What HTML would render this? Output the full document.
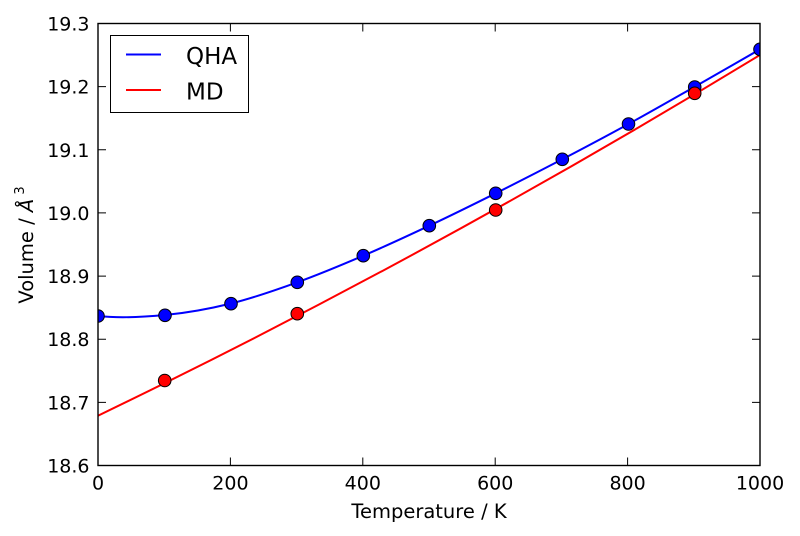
<!DOCTYPE html>
<html><head><meta charset="utf-8"><style>
html,body{margin:0;padding:0;background:#fff;}
svg{display:block;}
text{font-family:"DejaVu Sans","Liberation Sans",sans-serif;fill:#000;}
</style></head><body>
<svg width="800" height="536" viewBox="0 0 800 536" xmlns="http://www.w3.org/2000/svg">
<defs><clipPath id="ax"><rect x="98" y="23.5" width="662" height="442"/></clipPath></defs>
<rect width="800" height="536" fill="#fff"/>
<g clip-path="url(#ax)">
<path d="M98,415.7 Q429,256.2 760,55" fill="none" stroke="#f00" stroke-width="2"/>
<path d="M98,316 C116,318 142.8,317.1 165,315 C187.2,312.9 208.95,308.95 231,303.5 C253.05,298.05 275.25,290.27 297.3,282.3 C319.35,274.33 341.3,265.13 363.3,255.7 C385.3,246.27 407.23,236.1 429.3,225.7 C451.37,215.3 473.53,204.37 495.7,193.3 C517.87,182.23 540.17,170.85 562.3,159.3 C584.43,147.75 606.43,136.1 628.5,124 C650.57,111.9 672.78,99.15 694.7,86.7 C716.62,74.25 738.23,61.83 760,49.3" fill="none" stroke="#00f" stroke-width="2"/>
<g fill="#00f" stroke="#000" stroke-width="1">
<circle cx="98" cy="316" r="6.3"/><circle cx="165" cy="315.3" r="6.3"/><circle cx="231" cy="303.7" r="6.3"/><circle cx="297.3" cy="282.3" r="6.3"/><circle cx="363.3" cy="255.7" r="6.3"/><circle cx="429.3" cy="225.7" r="6.3"/><circle cx="495.7" cy="193.3" r="6.3"/><circle cx="562.3" cy="159.3" r="6.3"/><circle cx="628.5" cy="124" r="6.3"/><circle cx="694.7" cy="87" r="6.3"/><circle cx="760" cy="49.3" r="6.3"/>
</g>
<g fill="#f00" stroke="#000" stroke-width="1">
<circle cx="164.7" cy="380.5" r="6.3"/><circle cx="297.3" cy="313.7" r="6.3"/><circle cx="495.7" cy="210" r="6.3"/><circle cx="694.7" cy="93.3" r="6.3"/>
</g>
</g>
<g stroke="#000" stroke-width="1">
<path d="M98,402.4h8M98,339.2h8M98,276.1h8M98,212.9h8M98,149.8h8M98,86.6h8"/>
<path d="M760,402.4h-8M760,339.2h-8M760,276.1h-8M760,212.9h-8M760,149.8h-8M760,86.6h-8"/>
<path d="M230.4,465.5v-8M362.8,465.5v-8M495.2,465.5v-8M627.6,465.5v-8"/>
<path d="M230.4,23.5v8M362.8,23.5v8M495.2,23.5v8M627.6,23.5v8"/>
</g>
<rect x="98" y="23.5" width="662" height="442" fill="none" stroke="#000" stroke-width="1.4"/>
<g font-size="19" text-anchor="end">
<text x="89.5" y="30.5">19.3</text>
<text x="89.5" y="93.6">19.2</text>
<text x="89.5" y="156.8">19.1</text>
<text x="89.5" y="219.9">19.0</text>
<text x="89.5" y="283.1">18.9</text>
<text x="89.5" y="346.2">18.8</text>
<text x="89.5" y="409.4">18.7</text>
<text x="89.5" y="472.5">18.6</text>
</g>
<g font-size="19" text-anchor="middle">
<text x="98" y="489.5">0</text>
<text x="230.4" y="489.5">200</text>
<text x="362.8" y="489.5">400</text>
<text x="495.2" y="489.5">600</text>
<text x="627.6" y="489.5">800</text>
<text x="760" y="489.5">1000</text>
</g>
<text x="429" y="518" font-size="19.5" text-anchor="middle">Temperature / K</text>
<text transform="translate(33,245) rotate(-90)" font-size="19.5" text-anchor="middle">Volume / <tspan font-style="italic">Å</tspan><tspan font-size="13" dy="-9"> 3</tspan></text>
<rect x="110.5" y="35.5" width="138" height="77" fill="#fff" stroke="#000" stroke-width="1"/>
<path d="M126,54.5h35" stroke="#00f" stroke-width="2"/>
<path d="M126,90h35" stroke="#f00" stroke-width="2"/>
<text x="186" y="64" font-size="23">QHA</text>
<text x="186" y="99.5" font-size="23">MD</text>
</svg>
</body></html>
